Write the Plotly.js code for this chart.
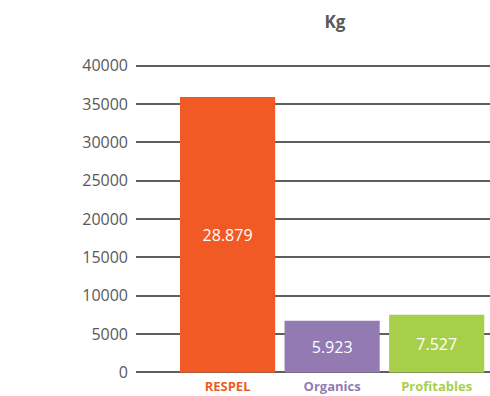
<!DOCTYPE html>
<html>
<head>
<meta charset="utf-8">
<script src="https://cdn.plot.ly/plotly-3.0.1.min.js"></script>
<style>html,body{margin:0;padding:0;background:#fff;}#chart{width:490px;height:396px;}</style>
</head>
<body>
<div id="chart"></div>
<script>
var categories = ["RESPEL", "Organics", "Profitables"];
var barHeights = [35900, 6740, 7527];
var valueLabels = ["28.879", "5.923", "7.527"];
var barColors = ["#F15A24", "#937AB3", "#A8CF4A"];
var yTicks = [0, 5000, 10000, 15000, 20000, 25000, 30000, 35000, 40000];

var trace = {
  type: "bar",
  x: categories,
  y: barHeights,
  text: valueLabels,
  textposition: "inside",
  insidetextanchor: "middle",
  textfont: {family: "Open Sans", size: 16, color: "#ffffff"},
  marker: {color: barColors},
  width: 0.91,
  hoverinfo: "none"
};

var layout = {
  width: 490,
  height: 396,
  margin: {l: 136, r: 0, t: 64, b: 22},
  paper_bgcolor: "#ffffff",
  plot_bgcolor: "#ffffff",
  showlegend: false,
  title: {
    text: "<b>Kg</b>",
    x: 335 / 490,
    xref: "container",
    xanchor: "center",
    y: 1 - 22 / 396,
    yref: "container",
    yanchor: "middle",
    font: {family: "Open Sans", size: 17, color: "#595959"}
  },
  xaxis: {
    type: "category",
    range: [-0.876, 2.51],
    tickmode: "array",
    tickvals: categories,
    ticktext: categories.map(function (c, i) {
      return '<b><span style="color:' + barColors[i] + '">' + c + '</span></b>';
    }),
    tickfont: {family: "Open Sans", size: 13},
    showgrid: false,
    zeroline: false,
    showline: false,
    ticks: "",
    ticklabelstandoff: 3
  },
  yaxis: {
    range: [-200, 40200],
    tickmode: "array",
    tickvals: yTicks,
    ticktext: yTicks.map(String),
    tickfont: {family: "Open Sans", size: 16, color: "#595959"},
    showgrid: true,
    gridcolor: "#5f5f5f",
    gridwidth: 2,
    zeroline: false,
    showline: false,
    ticks: "",
    ticklabelstandoff: 7
  }
};

Plotly.newPlot("chart", [trace], layout, {staticPlot: true, displayModeBar: false});
</script>
</body>
</html>
